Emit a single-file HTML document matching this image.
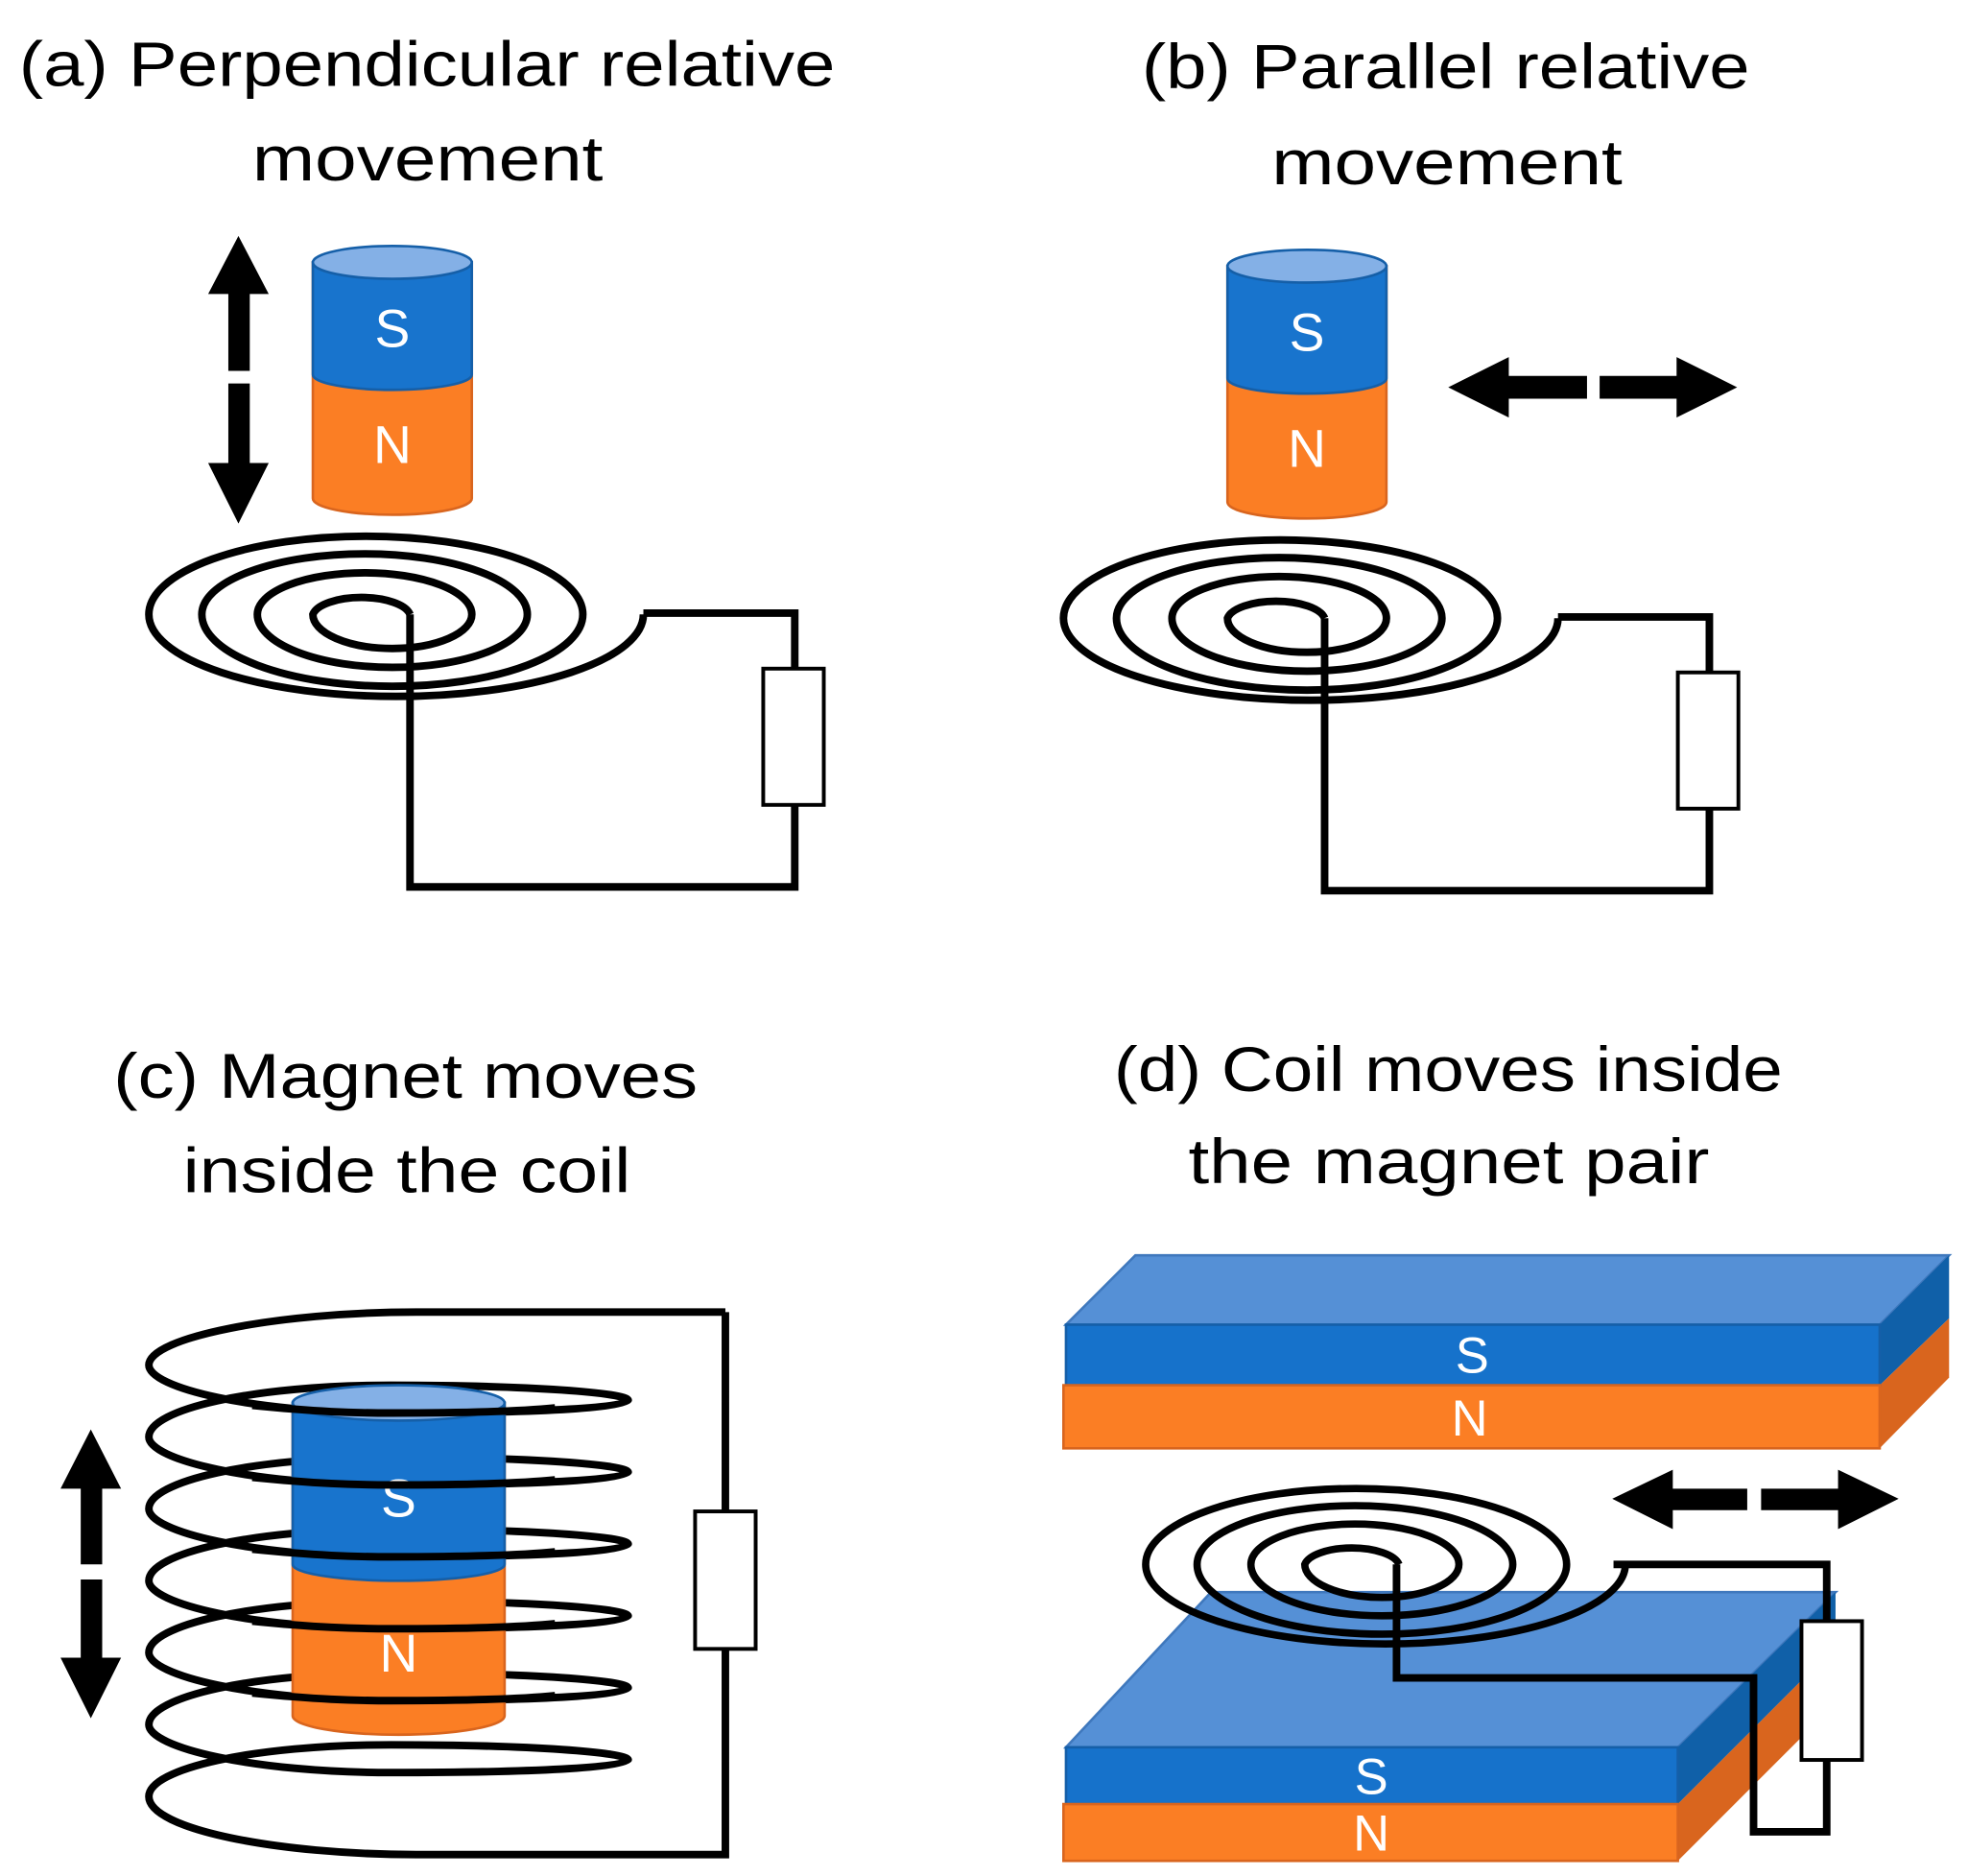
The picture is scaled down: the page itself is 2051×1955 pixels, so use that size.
<!DOCTYPE html>
<html><head><meta charset="utf-8"><style>
html,body{margin:0;padding:0;background:#fff;}
svg{display:block;}
text{font-family:"Liberation Sans",sans-serif;}
</style></head><body>
<svg width="2051" height="1955" viewBox="0 0 1560 1487" preserveAspectRatio="none" xmlns="http://www.w3.org/2000/svg">
<defs>
<g id="cyl">
  <path d="M248,208 V395 A63,13 0 0 0 374,395 V208 Z" fill="#fb7e24" stroke="#d9651e" stroke-width="2"/>
  <path d="M248,208 V297 A63,12 0 0 0 374,297 V208 Z" fill="#1874cd" stroke="#155fa8" stroke-width="2"/>
  <ellipse cx="311" cy="208" rx="63" ry="13" fill="#84b0e6" stroke="#155fa8" stroke-width="2"/>
</g>
<path id="spiral" d="M325,487 A39,16 0 0 0 248,487 A63,27 0 0 0 374,487 A85,33 0 0 0 204,487 A107,42 0 0 0 418,487 A129,48 0 0 0 160,487 A151,57 0 0 0 462,487 A172,62 0 0 0 118,487 A196,65 0 0 0 510,487" fill="none" stroke="#000" stroke-width="6"/>
</defs>

<!-- Titles -->
<g font-size="50" fill="#000">
<text x="15" y="68" textLength="647" lengthAdjust="spacingAndGlyphs">(a) Perpendicular relative</text>
<text x="200" y="143" textLength="278" lengthAdjust="spacingAndGlyphs">movement</text>
<text x="905" y="70" textLength="482" lengthAdjust="spacingAndGlyphs">(b) Parallel relative</text>
<text x="1008" y="146" textLength="278" lengthAdjust="spacingAndGlyphs">movement</text>
<text x="90" y="870" textLength="463" lengthAdjust="spacingAndGlyphs">(c) Magnet moves</text>
<text x="145" y="945" textLength="355" lengthAdjust="spacingAndGlyphs">inside the coil</text>
<text x="883" y="865" textLength="530" lengthAdjust="spacingAndGlyphs">(d) Coil moves inside</text>
<text x="942" y="938" textLength="413" lengthAdjust="spacingAndGlyphs">the magnet pair</text>
</g>

<!-- Panel a -->
<g>
  <polygon points="189,187 213,233 198,233 198,294 181,294 181,233 165,233" fill="#000"/>
  <polygon points="189,415 213,367 198,367 198,304 181,304 181,367 165,367" fill="#000"/>
  <use href="#cyl"/>
  <text x="311" y="275" font-size="42" fill="#fff" text-anchor="middle">S</text>
  <text x="311" y="367" font-size="42" fill="#fff" text-anchor="middle">N</text>
  <use href="#spiral"/>
  <path d="M510,486 H630 V530 M630,638 V703 H325 V487" fill="none" stroke="#000" stroke-width="6"/>
  <rect x="605" y="530" width="48" height="108" fill="#fff" stroke="#000" stroke-width="3"/>
</g>

<!-- Panel b -->
<g transform="translate(725,3)">
  <use href="#cyl"/>
  <text x="311" y="275" font-size="42" fill="#fff" text-anchor="middle">S</text>
  <text x="311" y="367" font-size="42" fill="#fff" text-anchor="middle">N</text>
  <use href="#spiral"/>
  <path d="M510,486 H630 V530 M630,638 V703 H325 V487" fill="none" stroke="#000" stroke-width="6"/>
  <rect x="605" y="530" width="48" height="108" fill="#fff" stroke="#000" stroke-width="3"/>
</g>
<polygon points="1148,307 1196,283 1196,298 1258,298 1258,316 1196,316 1196,331" fill="#000"/>
<polygon points="1377,307 1329,283 1329,298 1268,298 1268,316 1329,316 1329,331" fill="#000"/>

<!-- Panel c -->
<g>
  <polygon points="72,1133 96,1180 81,1180 81,1240 64,1240 64,1180 48,1180" fill="#000"/>
  <polygon points="72,1362 96,1314 81,1314 81,1252 64,1252 64,1314 48,1314" fill="#000"/>
  <path id="helix" d="M575,1040 H330 C220,1040 118,1060 118,1082
  C118,1100 200,1120 310,1120 C420,1120 498,1116 498,1110 C498,1104 420,1098 310,1098 C200,1098 118,1117 118,1139
  C118,1157 200,1177 310,1177 C420,1177 498,1173 498,1167 C498,1161 420,1155 310,1155 C200,1155 118,1174 118,1196
  C118,1214 200,1234 310,1234 C420,1234 498,1230 498,1224 C498,1218 420,1212 310,1212 C200,1212 118,1231 118,1253
  C118,1271 200,1291 310,1291 C420,1291 498,1287 498,1281 C498,1275 420,1269 310,1269 C200,1269 118,1288 118,1310
  C118,1328 200,1348 310,1348 C420,1348 498,1344 498,1338 C498,1332 420,1326 310,1326 C200,1326 118,1345 118,1367
  C118,1385 200,1405 310,1405 C420,1405 498,1401 498,1395 C498,1389 420,1383 310,1383 C200,1383 118,1402 118,1424
  C118,1450 220,1470 330,1470 H575 V1307 M575,1198 V1040" fill="none" stroke="#000" stroke-width="6"/>
  <path d="M232,1112 V1360 A84,15 0 0 0 400,1360 V1112 Z" fill="#fb7e24" stroke="#d9651e" stroke-width="2"/>
  <path d="M232,1112 V1240 A84,13 0 0 0 400,1240 V1112 Z" fill="#1874cd" stroke="#155fa8" stroke-width="2"/>
  <ellipse cx="316" cy="1112" rx="84" ry="14" fill="#84b0e6" stroke="#155fa8" stroke-width="2"/>
  <text x="316" y="1202" font-size="42" fill="#fff" text-anchor="middle">S</text>
  <text x="316" y="1325" font-size="42" fill="#fff" text-anchor="middle">N</text>
  <g fill="none" stroke="#000" stroke-width="6">
    <path d="M200,1114 C250,1119 280,1120 310,1120 C360,1120 410,1119 440,1116"/>
    <path d="M200,1171 C250,1176 280,1177 310,1177 C360,1177 410,1176 440,1173"/>
    <path d="M200,1228 C250,1233 280,1234 310,1234 C360,1234 410,1233 440,1230"/>
    <path d="M200,1285 C250,1290 280,1291 310,1291 C360,1291 410,1290 440,1287"/>
    <path d="M200,1342 C250,1347 280,1348 310,1348 C360,1348 410,1347 440,1344"/>
  </g>
  <rect x="551" y="1198" width="48" height="109" fill="#fff" stroke="#000" stroke-width="3"/>
</g>

<!-- Panel d -->
<g>
  <!-- top slab -->
  <polygon points="845,1050 900,995 1545,995 1490,1050" fill="#5590d6" stroke="#3f78bd" stroke-width="2"/>
  <polygon points="1490,1050 1545,995 1545,1045 1490,1098" fill="#1060a8"/>
  <polygon points="1490,1098 1545,1045 1545,1092 1490,1148" fill="#d9651e"/>
  <rect x="845" y="1050" width="645" height="48" fill="#1672cb" stroke="#155fa8" stroke-width="2"/>
  <rect x="843" y="1098" width="647" height="50" fill="#fb7e24" stroke="#d9651e" stroke-width="2"/>
  <text x="1167" y="1088" font-size="40" fill="#fff" text-anchor="middle">S</text>
  <text x="1165" y="1138" font-size="40" fill="#fff" text-anchor="middle">N</text>
  <!-- bottom slab -->
  <polygon points="845,1385 960,1262 1455,1262 1330,1385" fill="#5590d6" stroke="#3f78bd" stroke-width="2"/>
  <polygon points="1330,1385 1455,1262 1455,1305 1330,1430" fill="#1060a8"/>
  <polygon points="1330,1430 1455,1305 1455,1350 1330,1475" fill="#d9651e"/>
  <rect x="845" y="1385" width="485" height="45" fill="#1672cb" stroke="#155fa8" stroke-width="2"/>
  <rect x="843" y="1430" width="487" height="45" fill="#fb7e24" stroke="#d9651e" stroke-width="2"/>
  <text x="1087" y="1422" font-size="40" fill="#fff" text-anchor="middle">S</text>
  <text x="1087" y="1467" font-size="40" fill="#fff" text-anchor="middle">N</text>
  <!-- coil -->
  <g transform="translate(785,753) translate(290,487) scale(0.97) translate(-290,-487)">
    <use href="#spiral"/>
  </g>
  <path d="M1279,1240 H1448 V1285 M1448,1395 V1452 H1390 V1330 H1107 V1240" fill="none" stroke="#000" stroke-width="6"/>
  <rect x="1428" y="1285" width="48" height="110" fill="#fff" stroke="#000" stroke-width="3"/>
  <!-- arrow -->
  <polygon points="1278,1188 1326,1165 1326,1180 1385,1180 1385,1197 1326,1197 1326,1212" fill="#000"/>
  <polygon points="1505,1188 1457,1165 1457,1180 1396,1180 1396,1197 1457,1197 1457,1212" fill="#000"/>
</g>
</svg>
</body></html>
